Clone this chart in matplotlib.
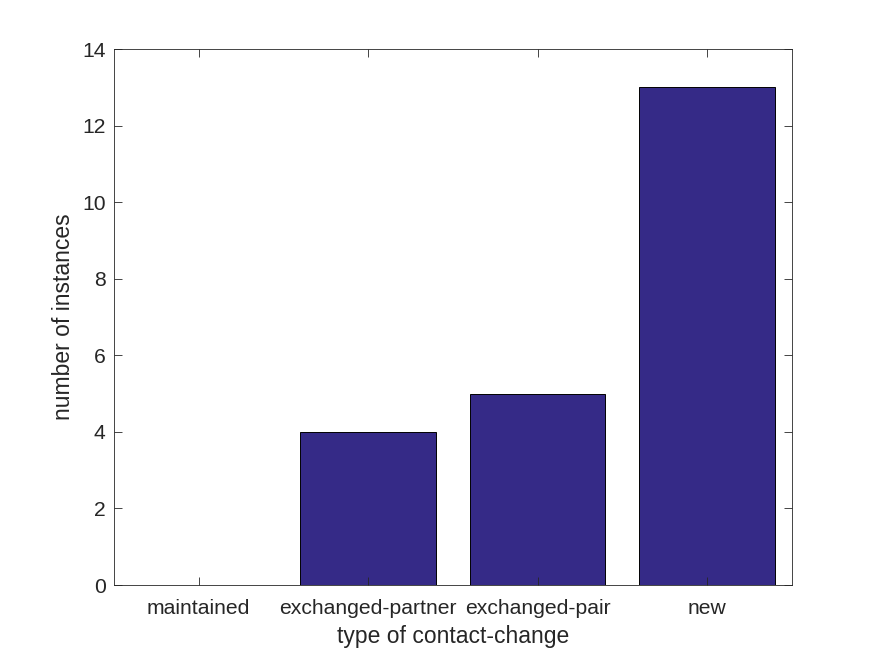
import matplotlib
matplotlib.use("Agg")
import matplotlib.pyplot as plt

# contact-change counts
categories = ["maintained", "exchanged-partner", "exchanged-pair", "new"]
counts = [0, 4, 5, 13]

plt.rcParams['font.family'] = ['Liberation Sans', 'DejaVu Sans']

fig = plt.figure(figsize=(8.75, 6.56), dpi=100)
ax = fig.add_axes([0.1303, 0.1082, 0.7747, 0.8171])

x = range(1, len(categories) + 1)
ax.bar(x, counts, width=0.8, color="#352a87", edgecolor="black", linewidth=0.7)

ax.set_xlim(0.5, 4.5)
ax.set_ylim(0, 14)
ax.set_xticks(list(x))
ax.set_xticklabels(categories)
ax.set_yticks(range(0, 15, 2))
ax.tick_params(direction="in", top=True, right=True, labelsize=15.2, colors="#262626", length=6, width=0.6)
ax.tick_params(axis="x", pad=10)
ax.tick_params(axis="y", pad=6)
for s in ax.spines.values():
    s.set_color("#262626")
    s.set_linewidth(0.6)

ax.set_xlabel("type of contact-change", fontsize=16.5, color="#262626", labelpad=5)
ax.set_ylabel("number of instances", fontsize=16.5, color="#262626", labelpad=5)

fig.savefig("out.png")
